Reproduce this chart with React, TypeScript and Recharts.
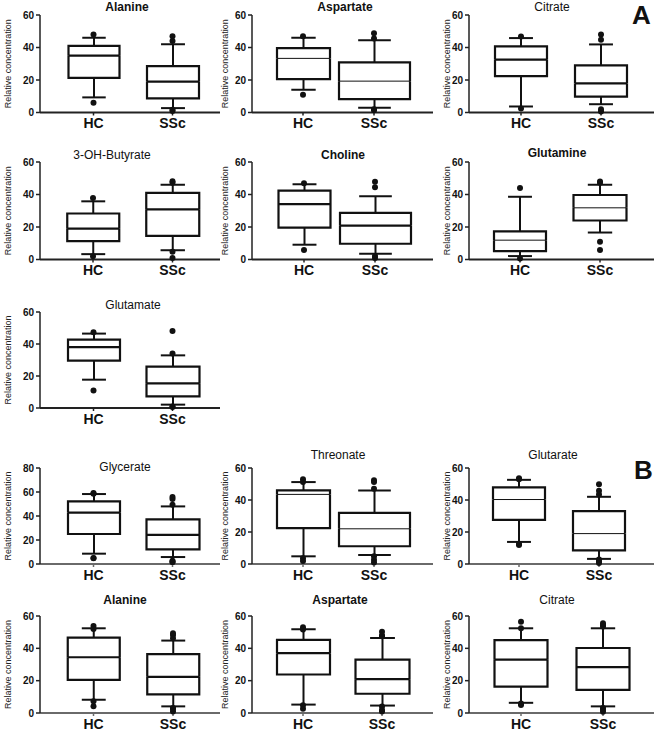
import React from 'react';
import { ComposedChart, Bar, Scatter, XAxis, YAxis } from 'recharts';

const FONT = '"Liberation Sans", Arial, sans-serif';
const INK = '#111';

const GROUPS = ['HC', 'SSc'];

const TITLES = [
  'Alanine', 'Aspartate', 'Citrate',
  '3-OH-Butyrate', 'Choline', 'Glutamine',
  'Glutamate',
  'Glycerate', 'Threonate', 'Glutarate',
  'Alanine', 'Aspartate', 'Citrate',
];

// [lower whisker, Q1, median, Q3, upper whisker]
const HC_BOX = [
  [9.3, 21.3, 35, 41, 46],
  [14, 20.6, 33.3, 39.6, 46],
  [3.7, 22.4, 32.5, 40.7, 45.8],
  [3.3, 11.3, 19, 28.3, 35.8],
  [9.1, 19.6, 34.1, 42.4, 46.3],
  [2.1, 5.1, 11.9, 17.3, 38.6],
  [17.7, 29.6, 38.1, 42.7, 46.5],
  [8.6, 25, 42.8, 52.2, 58.3],
  [4.8, 22.4, 43.5, 46, 51.2],
  [13.8, 27.6, 40.3, 47.9, 52.6],
  [8.2, 20.5, 34.5, 46.6, 52.4],
  [5.2, 23.8, 37, 45.2, 51.8],
  [6.3, 16.3, 33, 45.1, 52.4],
];

const SSC_BOX = [
  [2.7, 8.7, 19, 28.5, 42],
  [3, 8.2, 19.3, 30.8, 44.4],
  [5.1, 9.8, 17.9, 29, 41.9],
  [5.7, 14.5, 30.9, 41, 46],
  [3.6, 9.7, 20.8, 28.7, 39],
  [16.6, 24, 31.8, 39.7, 46],
  [2.1, 7.3, 15.4, 25.8, 32.9],
  [5.8, 12.2, 24.2, 37.2, 48],
  [5.6, 11.1, 22, 32, 46],
  [3.2, 8.5, 19, 33, 42],
  [4.1, 11.5, 22.4, 36.4, 44.8],
  [4.6, 11.9, 20.9, 33, 46.4],
  [4.1, 14.3, 28.4, 40.2, 52.4],
];

const HC_OUT = [
  [48, 6],
  [47, 11],
  [46.8, 2.4],
  [37.9, 2],
  [46.9, 5.9],
  [44, 0.6],
  [47.3, 11],
  [59.2, 58.6, 4.7, 5],
  [52.9, 51.2, 1.9, 3.6],
  [53.6, 53, 11.9, 12.5],
  [53.8, 51.9, 4.1, 7.2],
  [53.1, 51.6, 2.7, 4.8],
  [56.5, 52.4, 4.9, 5.9],
];

const SSC_OUT = [
  [47, 44, 1, 1.7],
  [48.7, 45.6, 1.4, 2],
  [48, 44.7, 0.6, 2],
  [47.3, 48.1, 4.7, 1],
  [47.9, 44.4, 1, 2.2],
  [47.3, 48, 10.9, 5.9],
  [48.1, 34, 0.6, 1],
  [54.2, 55.8, 49.4, 2.8, 1.7, 1.7],
  [52.3, 51.2, 47, 4.8, 2.7, 1],
  [49.8, 45.8, 43.5, 2.8, 0.6, 1.5],
  [48.3, 49.3, 46.2, 3.1, 1, 2.5],
  [48, 47.5, 50.2, 4, 1, 1.9],
  [54.5, 53.5, 55.5, 3.1, 0.8, 2],
];

const Y_TICKS = [0, 20, 40, 60];
const Y_TICKS_GLYCERATE = [0, 20, 40, 60, 80];

// ---- layout (pixel positions of each panel in the figure) ----
const ROWS = [
  [15, 112.5],
  [161.5, 259],
  [312, 408],
  [468, 564],
  [616, 713],
];
const COLS = [
  [40, 220, 8],
  [252, 433, 225],
  [469, 654, 447],
];

type Layout = {
  r: number; c: number;
  hc: number; ssc: number; hcW: number; sscW: number;
  tx: number; ty: number; bold: boolean; thin: boolean;
};

const LAYOUT: Layout[] = [
  { r: 0, c: 0, hc: 93.5, ssc: 172.5, hcW: 51, sscW: 52, tx: 127, ty: 7, bold: true, thin: false },
  { r: 0, c: 1, hc: 303, ssc: 374, hcW: 53, sscW: 71, tx: 345, ty: 7, bold: true, thin: true },
  { r: 0, c: 2, hc: 521, ssc: 601, hcW: 52, sscW: 52, tx: 552, ty: 7, bold: false, thin: false },
  { r: 1, c: 0, hc: 93, ssc: 172.5, hcW: 52, sscW: 53, tx: 112, ty: 155, bold: false, thin: false },
  { r: 1, c: 1, hc: 304, ssc: 375, hcW: 52, sscW: 71, tx: 343, ty: 155, bold: true, thin: false },
  { r: 1, c: 2, hc: 520, ssc: 600, hcW: 52, sscW: 53, tx: 557, ty: 153, bold: true, thin: true },
  { r: 2, c: 0, hc: 93.5, ssc: 172.5, hcW: 52, sscW: 53, tx: 133, ty: 305, bold: false, thin: false },
  { r: 3, c: 0, hc: 93.5, ssc: 172.5, hcW: 52, sscW: 53, tx: 125, ty: 467, bold: false, thin: false },
  { r: 3, c: 1, hc: 303, ssc: 374, hcW: 53, sscW: 71, tx: 338, ty: 455, bold: false, thin: true },
  { r: 3, c: 2, hc: 519, ssc: 599, hcW: 52, sscW: 52, tx: 553, ty: 455, bold: false, thin: true },
  { r: 4, c: 0, hc: 93.5, ssc: 173, hcW: 52, sscW: 52, tx: 125, ty: 600, bold: true, thin: false },
  { r: 4, c: 1, hc: 303, ssc: 382, hcW: 53, sscW: 54, tx: 340, ty: 600, bold: true, thin: false },
  { r: 4, c: 2, hc: 521, ssc: 603, hcW: 53, sscW: 53, tx: 557, ty: 600, bold: false, thin: false },
];

const YW = 40;
const MT = 8;
const XH = 24;
const MR = 4;

function boxWidth(L: Layout, name: string) {
  return name === 'SSc' ? L.sscW : L.hcW;
}

function Panel({ i }: { i: number }) {
  const L = LAYOUT[i];
  const [y0, y1] = ROWS[L.r];
  const [x0, x1, labelX] = COLS[L.c];
  const band = L.ssc - L.hc;
  const padL = L.hc - band / 2 - x0;
  const padR = x1 - (L.ssc + band / 2);
  const ticks = TITLES[i] === 'Glycerate' ? Y_TICKS_GLYCERATE : Y_TICKS;
  const yMax = ticks[ticks.length - 1];
  const left = x0 - YW;
  const top = y0 - MT;
  const width = YW + (x1 - x0) + MR;
  const height = MT + (y1 - y0) + XH;
  const xAxisColor = L.r >= 3 ? '#6a6a6a' : '#222';

  const rows = GROUPS.map((g, k) => {
    const b = k === 0 ? HC_BOX[i] : SSC_BOX[i];
    return {
      name: g,
      base: b[0],
      lowW: b[1] - b[0],
      lowBox: b[2] - b[1],
      highBox: b[3] - b[2],
      highW: b[4] - b[3],
    };
  });
  const outliers = [
    ...HC_OUT[i].map((v) => ({ name: 'HC', v })),
    ...SSC_OUT[i].map((v) => ({ name: 'SSc', v })),
  ];

  const lowWhisker = (p: any) => {
    const cx = p.x + p.width / 2;
    const cap = boxWidth(L, p.payload.name) * 0.46;
    const yb = p.y + p.height;
    return (
      <g>
        <line x1={cx} x2={cx} y1={p.y} y2={yb} stroke={INK} strokeWidth={2} />
        <line x1={cx - cap / 2} x2={cx + cap / 2} y1={yb} y2={yb} stroke={INK} strokeWidth={2} />
      </g>
    );
  };
  const highWhisker = (p: any) => {
    const cx = p.x + p.width / 2;
    const cap = boxWidth(L, p.payload.name) * 0.46;
    return (
      <g>
        <line x1={cx} x2={cx} y1={p.y} y2={p.y + p.height} stroke={INK} strokeWidth={2} />
        <line x1={cx - cap / 2} x2={cx + cap / 2} y1={p.y} y2={p.y} stroke={INK} strokeWidth={2} />
      </g>
    );
  };
  const lowBox = (p: any) => {
    const cx = p.x + p.width / 2;
    const w = boxWidth(L, p.payload.name);
    const l = cx - w / 2;
    const r = cx + w / 2;
    const yb = p.y + p.height;
    return (
      <g>
        <path d={`M${l},${p.y}L${l},${yb}L${r},${yb}L${r},${p.y}`} fill="none" stroke={INK} strokeWidth={2.2} />
        <line x1={l} x2={r} y1={p.y} y2={p.y} stroke={INK} strokeWidth={L.thin ? 1 : 2.2} />
      </g>
    );
  };
  const highBox = (p: any) => {
    const cx = p.x + p.width / 2;
    const w = boxWidth(L, p.payload.name);
    const l = cx - w / 2;
    const r = cx + w / 2;
    const yb = p.y + p.height;
    return (
      <path d={`M${l},${yb}L${l},${p.y}L${r},${p.y}L${r},${yb}`} fill="none" stroke={INK} strokeWidth={2.2} />
    );
  };
  const dot = (p: any) => <circle cx={p.cx} cy={p.cy} r={3} fill={INK} />;

  return (
    <>
      <div
        style={{
          position: 'absolute',
          left: L.tx,
          top: L.ty,
          transform: 'translate(-50%, -50%)',
          fontFamily: FONT,
          fontSize: 12,
          fontWeight: L.bold ? 700 : 400,
          color: INK,
          whiteSpace: 'nowrap',
          lineHeight: 1,
        }}
      >
        {TITLES[i]}
      </div>
      <div style={{ position: 'absolute', left, top }}>
        <ComposedChart
          width={width}
          height={height}
          data={rows}
          margin={{ top: MT, right: MR, bottom: 0, left: 0 }}
        >
          <XAxis
            dataKey="name"
            type="category"
            allowDuplicatedCategory={false}
            padding={{ left: padL, right: padR }}
            height={XH}
            tickSize={3}
            tickMargin={3}
            axisLine={{ stroke: xAxisColor, strokeWidth: 1.8 }}
            tickLine={{ stroke: xAxisColor, strokeWidth: 1.5 }}
            tick={{ fontSize: 14, fontWeight: 700, fill: INK, fontFamily: FONT }}
          />
          <YAxis
            type="number"
            domain={[0, yMax]}
            ticks={ticks}
            interval={0}
            width={YW}
            tickSize={4}
            tickMargin={2}
            axisLine={{ stroke: '#222', strokeWidth: 1.5 }}
            tickLine={{ stroke: '#222', strokeWidth: 1.5 }}
            tick={{ fontSize: 10, fontWeight: 700, fill: INK, fontFamily: FONT }}
            label={{
              value: 'Relative concentration',
              angle: -90,
              position: 'insideLeft',
              offset: labelX - left,
              style: { textAnchor: 'middle', fontSize: 9, fill: '#222', fontFamily: FONT },
            }}
          />
          <Bar dataKey="base" stackId="box" fill="transparent" barSize={50} isAnimationActive={false} />
          <Bar dataKey="lowW" stackId="box" shape={lowWhisker} barSize={50} isAnimationActive={false} />
          <Bar dataKey="lowBox" stackId="box" shape={lowBox} barSize={50} isAnimationActive={false} />
          <Bar dataKey="highBox" stackId="box" shape={highBox} barSize={50} isAnimationActive={false} />
          <Bar dataKey="highW" stackId="box" shape={highWhisker} barSize={50} isAnimationActive={false} />
          <Scatter data={outliers} dataKey="v" shape={dot} isAnimationActive={false} />
        </ComposedChart>
      </div>
    </>
  );
}

export default function App() {
  return (
    <div
      style={{
        position: 'absolute',
        left: 0,
        top: 0,
        width: 660,
        height: 731,
        background: '#fff',
        overflow: 'hidden',
      }}
    >
      {TITLES.map((_, i) => (
        <Panel key={i} i={i} />
      ))}
      <div style={{ position: 'absolute', left: 632, top: 0, fontFamily: FONT, fontSize: 26, fontWeight: 700, color: INK }}>
        A
      </div>
      <div style={{ position: 'absolute', left: 634, top: 455, fontFamily: FONT, fontSize: 26, fontWeight: 700, color: INK }}>
        B
      </div>
    </div>
  );
}
